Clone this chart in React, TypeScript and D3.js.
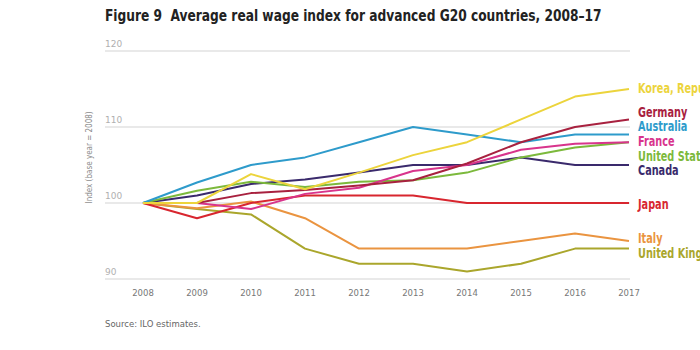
import { useMemo } from "react";
import * as d3 from "d3";

const WIDTH = 700;
const HEIGHT = 350;
const MARGIN = { top: 51, right: 71, bottom: 71, left: 143 };

const years = [2008, 2009, 2010, 2011, 2012, 2013, 2014, 2015, 2016, 2017];
const yTicks = [90, 100, 110, 120];

const korea = [100, 100, 103.8, 101.8, 104, 106.3, 108, 111, 114, 115];
const germany = [100, 100, 101.3, 101.7, 102.3, 103, 105.2, 108, 110, 111];
const australia = [100, 102.7, 105, 106, 108, 110, 109, 108, 109, 109];
const france = [100, 100, 99.2, 101.2, 102, 104.2, 105, 107, 107.8, 108];
const unitedStates = [100, 101.6, 102.8, 102.1, 102.8, 103, 104, 106, 107.3, 108];
const canada = [100, 101, 102.5, 103.1, 104, 105, 105, 106, 105, 105];
const japan = [100, 98, 100, 101, 101, 101, 100, 100, 100, 100];
const italy = [100, 99.3, 100.2, 98, 94, 94, 94, 95, 96, 95];
const unitedKingdom = [100, 99.2, 98.5, 94, 92, 92, 91, 92, 94, 94];

const series = [
  { name: "Korea, Republic of", values: korea, color: "#ecd43c", labelAt: 115.1 },
  { name: "Germany", values: germany, color: "#a8213f", labelAt: 112 },
  { name: "Australia", values: australia, color: "#2e9bcb", labelAt: 110.1 },
  { name: "France", values: france, color: "#d8348c", labelAt: 108.2 },
  { name: "United States", values: unitedStates, color: "#7cb93c", labelAt: 106.2 },
  { name: "Canada", values: canada, color: "#3a2a6c", labelAt: 104.3 },
  { name: "Japan", values: japan, color: "#d8262f", labelAt: 99.9 },
  { name: "Italy", values: italy, color: "#ea9440", labelAt: 95.4 },
  { name: "United Kingdom", values: unitedKingdom, color: "#aaa62c", labelAt: 93.4 },
];

const CONDENSED = "'DejaVu Sans Condensed', 'Liberation Sans', sans-serif";
const GREY_TEXT = "#8a8a8a";

export default function App() {
  const boundsWidth = WIDTH - MARGIN.left - MARGIN.right;
  const boundsHeight = HEIGHT - MARGIN.top - MARGIN.bottom;

  const xScale = useMemo(
    () => d3.scalePoint<number>().domain(years).range([0, boundsWidth]),
    [boundsWidth]
  );
  const yScale = useMemo(
    () => d3.scaleLinear().domain([90, 120]).range([boundsHeight, 0]),
    [boundsHeight]
  );

  const lineGen = d3
    .line<number>()
    .x((_, i) => xScale(years[i]) as number)
    .y((d) => yScale(d));

  return (
    <svg
      width={WIDTH}
      height={HEIGHT}
      style={{ position: "absolute", left: 0, top: 0, background: "#fff" }}
    >
      {/* title, squeezed to mimic the condensed face */}
      <text
        transform="translate(105,21) scale(0.85,1)"
        fontFamily={CONDENSED}
        fontWeight="bold"
        fontSize={16}
        fill="#222"
      >
        Figure 9{"\u00a0\u00a0"}Average real wage index for advanced G20 countries, 2008–17
      </text>

      <g transform={`translate(${MARGIN.left},${MARGIN.top})`}>
        {/* grid + y labels */}
        {yTicks.map((t) => (
          <g key={t}>
            <line
              x1={-38}
              x2={boundsWidth + 1}
              y1={yScale(t)}
              y2={yScale(t)}
              stroke="#d4d4d4"
              strokeWidth={1.2}
            />
            <text
              x={-38}
              y={yScale(t) - 4}
              fontFamily="'DejaVu Sans', sans-serif"
              fontSize={9}
              fill="#b0b0b0"
            >
              {t}
            </text>
          </g>
        ))}

        <text
          transform={`translate(-51,${yScale(106)}) rotate(-90)`}
          textAnchor="middle"
          fontFamily={CONDENSED}
          fontSize={8}
          fill={GREY_TEXT}
        >
          Index (base year = 2008)
        </text>

        {/* x labels */}
        {years.map((yr) => (
          <text
            key={yr}
            x={xScale(yr)}
            y={boundsHeight + 17}
            textAnchor="middle"
            fontFamily="'DejaVu Sans', sans-serif"
            fontSize={8.5}
            fill="#777"
          >
            {yr}
          </text>
        ))}

        {/* lines */}
        {series
          .slice()
          .reverse()
          .map((s) => (
            <path
              key={s.name}
              d={lineGen(s.values) || ""}
              fill="none"
              stroke={s.color}
              strokeWidth={2}
              strokeLinejoin="round"
            />
          ))}

        {/* end labels */}
        {series.map((s) => (
          <text
            key={s.name}
            transform={`translate(${boundsWidth + 9},${yScale(s.labelAt)}) scale(0.8,1)`}
            dy="0.36em"
            fontFamily={CONDENSED}
            fontWeight="bold"
            fontSize={13.5}
            fill={s.color}
          >
            {s.name}
          </text>
        ))}
      </g>

      <text
        x={105}
        y={327}
        fontFamily="'DejaVu Sans', sans-serif"
        fontSize={8.5}
        fill="#666"
      >
        Source: ILO estimates.
      </text>
    </svg>
  );
}
